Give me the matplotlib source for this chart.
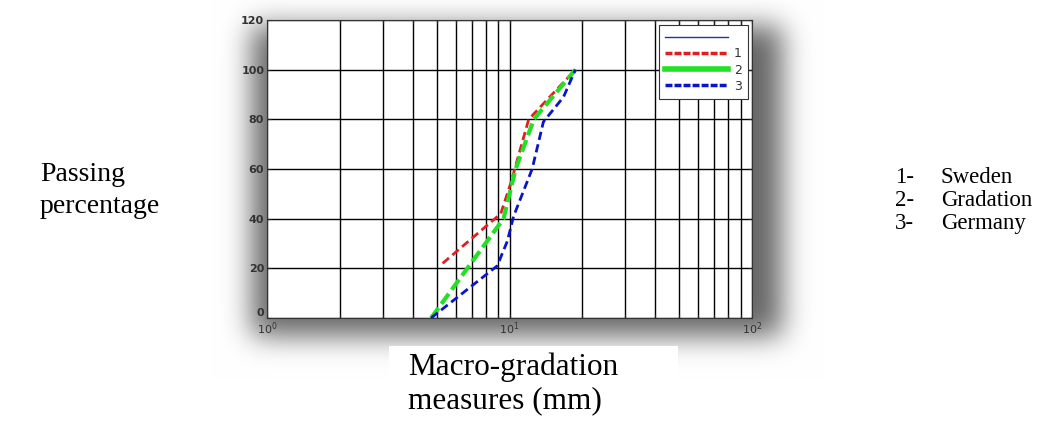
import matplotlib.pyplot as plt
import matplotlib.transforms as mtransforms
import numpy as np
from matplotlib.lines import Line2D

# grading curves (size in mm, % passing)
sweden_x = [5.3, 9.2, 10.1, 12.0, 18.7]
sweden_y = [22, 42, 54, 80, 100]
gradation_x = [4.75, 9.45, 10.6, 12.6, 18.7]
gradation_y = [0, 40, 60, 80, 100]
germany_x = [4.75, 8.9, 9.8, 10.4, 12.4, 13.8, 16.7, 18.7]
germany_y = [0, 21, 31, 41, 60, 79, 89, 100]

legend_labels = ['', '1', '2', '3']
country_labels = ['1-', '2-', '3-']
country_names = ['Sweden', 'Gradation', 'Germany']
yticks = [0, 20, 40, 60, 80, 100, 120]

W, H = 1051, 425
fig = plt.figure(figsize=(W / 100, H / 100), dpi=100)
fig.patch.set_facecolor('white')

# axes box in pixels
x0, x1, ytop, ybot = 267, 752, 20, 318


def blur(a, sigma):
    # separable gaussian blur, plain numpy
    r = int(3 * sigma)
    k = np.exp(-0.5 * (np.arange(-r, r + 1) / sigma) ** 2)
    k /= k.sum()
    a = np.apply_along_axis(lambda v: np.convolve(v, k, mode='same'), 0, a)
    a = np.apply_along_axis(lambda v: np.convolve(v, k, mode='same'), 1, a)
    return a


# soft drop shadow (bottom / right) drawn as a background image
mask = np.zeros((H, W))
mask[26:336, 252:782] = 1.0
shade = blur(mask, 14) * 0.6
img = np.dstack([1 - shade] * 3)
img[346:, 389:678] = 1.0  # white box behind the x label
fig.figimage(img, xo=0, yo=0, origin='upper', zorder=-10)

ax = fig.add_axes([x0 / W, 1 - ybot / H, (x1 - x0) / W, (ybot - ytop) / H])

ax.set_xscale('log')
ax.set_xlim(1, 100)
ax.set_ylim(0, 120)
ax.set_yticks(yticks)
ax.set_xticks([1, 10, 100])
ax.set_xticklabels([r'$10^0$', r'$10^1$', r'$10^2$'])
ax.tick_params(which='both', direction='in', top=True, right=True, labelsize=8,
               length=3, width=0.8, colors='#222222')
ax.tick_params(axis='x', pad=2)
ax.tick_params(axis='y', pad=2)
for t in ax.get_yticklabels() + ax.get_xticklabels():
    t.set_fontweight('bold')
    t.set_color('#333333')
# lift the "0" label a little, as in the original
lbl0 = ax.get_yticklabels()[0]
lbl0.set_transform(lbl0.get_transform() +
                   mtransforms.ScaledTranslation(0, 4 / 72, fig.dpi_scale_trans))
ax.grid(True, which='both', color='black', linewidth=1.0)
ax.set_axisbelow(True)
for s in ax.spines.values():
    s.set_color('#333333')
    s.set_linewidth(0.8)

ax.plot(sweden_x, sweden_y, color='#e02020', lw=2.0, dashes=(3, 1.6))
ax.plot(gradation_x, gradation_y, color='#22e022', lw=3.0, dashes=(3, 1.2))
ax.plot(germany_x, germany_y, color='#0a14c8', lw=2.0, dashes=(3, 1.6))

handles = [
    Line2D([], [], color='#2030b0', lw=1.0),
    Line2D([], [], color='#e02020', lw=2.5, dashes=(2, 0.6)),
    Line2D([], [], color='#22e022', lw=4.0),
    Line2D([], [], color='#0a14c8', lw=2.5, dashes=(2, 0.6)),
]
leg = ax.legend(handles, legend_labels, loc='upper right', bbox_to_anchor=(0.992, 0.983),
                fontsize=9, handlelength=5.0, handletextpad=0.5, borderpad=0.5,
                labelspacing=0.25, fancybox=False, framealpha=1, edgecolor='#333333',
                borderaxespad=0)
leg.get_frame().set_linewidth(0.8)
for t in leg.get_texts():
    t.set_color('#333333')

serif = 'Liberation Serif'
fig.text(408 / W, 1 - 408 / H, 'Macro-gradation\nmeasures (mm)', fontsize=22.5,
         family=serif, ha='left', va='baseline', linespacing=1.2)
fig.text(40 / W, 1 - 213 / H, 'Passing\npercentage', fontsize=20,
         family=serif, ha='left', va='baseline', linespacing=1.35)
for i, (num, name) in enumerate(zip(country_labels, country_names)):
    yb = 1 - (183 + 23 * i) / H
    fig.text(895 / W, yb, num, fontsize=16.5, family=serif, ha='left', va='baseline')
    fig.text(941 / W, yb, name, fontsize=16.5, family=serif, ha='left', va='baseline')

fig.savefig('out.png', dpi=100)
